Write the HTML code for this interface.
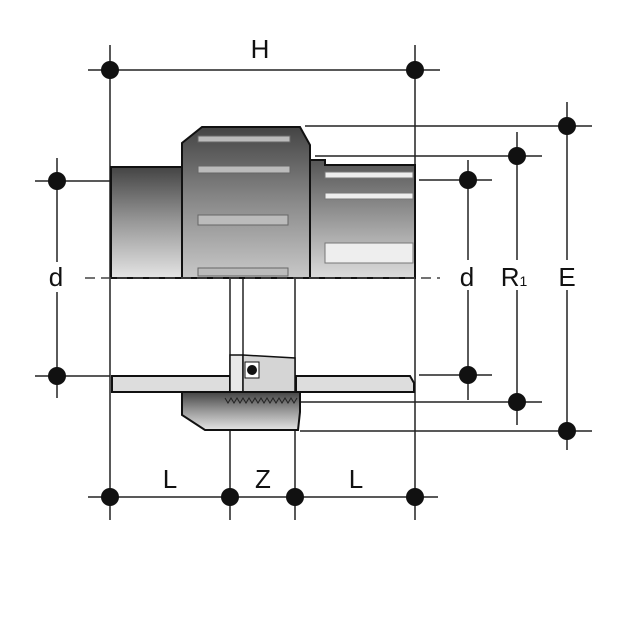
<!DOCTYPE html>
<html><head><style>html,body{margin:0;padding:0;background:#fff}svg{display:block}</style></head>
<body>
<svg width="620" height="620" viewBox="0 0 620 620" xmlns="http://www.w3.org/2000/svg" font-family="Liberation Sans, sans-serif">
<defs>
<linearGradient id="g1" x1="0" y1="0" x2="0" y2="1">
<stop offset="0" stop-color="#444"/><stop offset="0.5" stop-color="#999"/><stop offset="1" stop-color="#e4e4e4"/></linearGradient>
<linearGradient id="g2" x1="0" y1="0" x2="0" y2="1">
<stop offset="0" stop-color="#444"/><stop offset="0.5" stop-color="#8a8a8a"/><stop offset="1" stop-color="#c8c8c8"/></linearGradient>
<linearGradient id="g3" x1="0" y1="0" x2="0" y2="1">
<stop offset="0" stop-color="#555"/><stop offset="1" stop-color="#dcdcdc"/></linearGradient>
</defs>
<g stroke="#222" stroke-width="1.5" fill="none">
<line x1="110" y1="45" x2="110" y2="520"/>
<line x1="415" y1="45" x2="415" y2="520"/>
<line x1="230" y1="278" x2="230" y2="520"/>
<line x1="295" y1="278" x2="295" y2="520"/>
<line x1="243" y1="278" x2="243" y2="400"/>
<line x1="88" y1="70" x2="440" y2="70"/>
<line x1="88" y1="497" x2="438" y2="497"/>
<line x1="35" y1="181" x2="110" y2="181"/>
<line x1="35" y1="376" x2="110" y2="376"/>
<line x1="57" y1="158" x2="57" y2="262"/>
<line x1="57" y1="292" x2="57" y2="398"/>
<line x1="305" y1="126" x2="592" y2="126"/>
<line x1="315" y1="156" x2="542" y2="156"/>
<line x1="419" y1="180" x2="492" y2="180"/>
<line x1="419" y1="375" x2="492" y2="375"/>
<line x1="300" y1="402" x2="542" y2="402"/>
<line x1="300" y1="431" x2="592" y2="431"/>
<line x1="468" y1="160" x2="468" y2="260"/>
<line x1="468" y1="290" x2="468" y2="400"/>
<line x1="517" y1="132" x2="517" y2="260"/>
<line x1="517" y1="290" x2="517" y2="425"/>
<line x1="567" y1="102" x2="567" y2="260"/>
<line x1="567" y1="290" x2="567" y2="450"/>
</g>
<rect x="111" y="167" width="71" height="111" fill="url(#g1)" stroke="#111" stroke-width="2"/>
<path d="M310 278 V160 H325 V165 H415 V278 Z" fill="url(#g3)" stroke="#111" stroke-width="2"/>
<g fill="#eee" stroke="#777" stroke-width="1"><rect x="325" y="172" width="88" height="6"/><rect x="325" y="193" width="88" height="6"/><rect x="325" y="243" width="88" height="20"/></g>
<path d="M182 278 V143 L202 127 H300 L310 145 V278 Z" fill="url(#g2)" stroke="#111" stroke-width="2"/>
<g fill="#bbb" stroke="#666" stroke-width="1"><rect x="198" y="136" width="92" height="6"/><rect x="198" y="166" width="92" height="7"/><rect x="198" y="215" width="90" height="10"/><rect x="198" y="268" width="90" height="8"/></g>
<line x1="85" y1="278" x2="440" y2="278" stroke-dasharray="10,6" stroke="#444" stroke-width="1.5"/>
<path d="M112 376 H230 V392 H112 Z" fill="#ddd" stroke="#111" stroke-width="2"/>
<path d="M296 376 H410 L414 383 V392 H296 Z" fill="#ddd" stroke="#111" stroke-width="2"/>
<path d="M230 355 H243 V400 H230 Z" fill="#e8e8e8" stroke="#111" stroke-width="1.5"/>
<path d="M243 355 L295 358 V400 H243 Z" fill="#d5d5d5" stroke="#111" stroke-width="1.5"/>
<rect x="245" y="362" width="14" height="16" fill="#fff" stroke="#111"/>
<circle cx="252" cy="370" r="5" fill="#111"/>
<path d="M182 392 H300 V412 L298 430 H205 L182 415 Z" fill="url(#g1)" stroke="#111" stroke-width="2"/>
<path d="M225 398 l3 5 l3 -5 l3 5 l3 -5 l3 5 l3 -5 l3 5 l3 -5 l3 5 l3 -5 l3 5 l3 -5 l3 5 l3 -5 l3 5 l3 -5 l3 5 l3 -5 l3 5 l3 -5 l3 5 l3 -5 l3 5 l3 -5" fill="none" stroke="#222" stroke-width="1"/>
<g fill="#111">
<circle cx="110" cy="70" r="9"/><circle cx="415" cy="70" r="9"/>
<circle cx="110" cy="497" r="9"/><circle cx="230" cy="497" r="9"/><circle cx="295" cy="497" r="9"/><circle cx="415" cy="497" r="9"/>
<circle cx="57" cy="181" r="9"/><circle cx="57" cy="376" r="9"/>
<circle cx="468" cy="180" r="9"/><circle cx="468" cy="375" r="9"/>
<circle cx="517" cy="156" r="9"/><circle cx="517" cy="402" r="9"/>
<circle cx="567" cy="126" r="9"/><circle cx="567" cy="431" r="9"/>
</g>
<g font-size="26" fill="#111" text-anchor="middle">
<text x="260" y="58">H</text>
<text x="56" y="286">d</text>
<text x="467" y="286">d</text>
<text x="514" y="286">R<tspan font-size="14">1</tspan></text>
<text x="567" y="286">E</text>
<text x="170" y="488">L</text>
<text x="263" y="488">Z</text>
<text x="356" y="488">L</text>
</g>
</svg>
</body></html>
